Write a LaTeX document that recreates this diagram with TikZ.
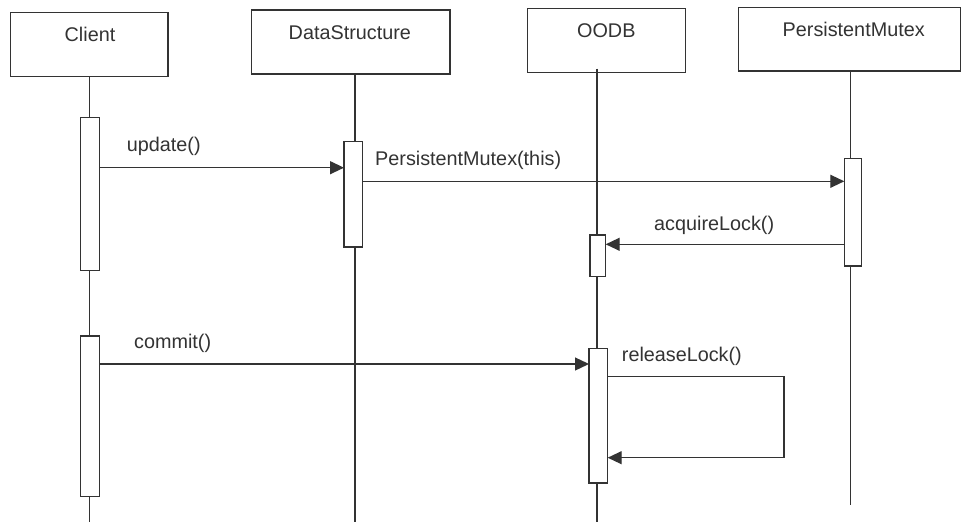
\documentclass[tikz,border=0pt]{standalone}
\usepackage{fontspec}
\setmainfont{Liberation Sans}
\usetikzlibrary{arrows.meta}
\definecolor{ink}{HTML}{333333}
\begin{document}
\begin{tikzpicture}[x=1pt,y=-1pt,
  every node/.style={text=ink},
  obj/.style={draw=ink, line width=1.3pt, fill=white, inner sep=0pt, outer sep=0pt, anchor=north west},
  act/.style={draw=ink, line width=1.3pt, fill=white, inner sep=0pt, outer sep=0pt, anchor=north west},
  life/.style={draw=ink, line width=1.3pt},
  msg/.style={draw=ink, line width=1.3pt, -{Triangle[length=14pt,width=13pt]}},
  lbl/.style={inner sep=0pt, font=\fontsize{19.8}{22}\selectfont},
  ttl/.style={inner sep=0pt, anchor=base, font=\fontsize{19.8}{22}\selectfont}]
\useasboundingbox (0,0) rectangle (961,522);
\fill[white] (0,0) rectangle (961,522);
% object boxes
\node[obj, minimum width=157.3pt, minimum height=64pt] (client) at (10.7,12.7) {};
\node[obj, minimum width=198.3pt, minimum height=64pt] (ds) at (251.7,10) {};
\node[obj, minimum width=158.4pt, minimum height=64.4pt] (oodb) at (527.3,8.3) {};
\node[obj, minimum width=222pt, minimum height=63.7pt] (pm) at (738.3,7.3) {};
\node[ttl] (tclient) at (90,41.7) {Client};
\node[ttl] (tds) at (349.8,39.3) {DataStructure};
\node[ttl] (toodb) at (606.3,37.7) {OODB};
\node[ttl] (tpm) at (853.7,36.7) {PersistentMutex};
% lifelines
\coordinate (lc) at (89.3,522);
\coordinate (ld) at (355,522);
\coordinate (lo) at (597,522);
\coordinate (lp) at (850.5,505);
\draw[life] (client.south -| lc) -- (lc);
\draw[life] (ds.south -| ld) -- (ld);
\draw[life] ([yshift=4pt]oodb.south -| lo) -- (lo);
\draw[life] (pm.south -| lp) -- (lp);
% activations
\node[act, minimum width=18.6pt, minimum height=153pt] (ca1) at (80.7,117.7) {};
\node[act, minimum width=18.7pt, minimum height=105.3pt] (da1) at (344,141.7) {};
\node[act, minimum width=17.4pt, minimum height=107.7pt] (ma1) at (844.3,158.3) {};
\node[act, minimum width=15.7pt, minimum height=41.7pt] (oa1) at (590,235) {};
\node[act, minimum width=18.6pt, minimum height=160.7pt] (ca2) at (80.7,336) {};
\node[act, minimum width=18.7pt, minimum height=134.7pt] (oa2) at (589,348.3) {};
% messages
\draw[msg] (ca1.east |- 0,167.7) -- (da1.west |- 0,167.7);
\node[lbl, anchor=base west] (lupd) at (126.7,151) {update()};
\draw[msg] (da1.east |- 0,181.3) -- (ma1.west |- 0,181.3);
\node[lbl, anchor=base west] (lpm) at (375,165.7) {PersistentMutex(this)};
\draw[msg] (ma1.west |- 0,244.3) -- (oa1.east |- 0,244.3);
\node[lbl, anchor=base west] (lacq) at (654,230) {acquireLock()};
\draw[msg] (ca2.east |- 0,364) -- (oa2.west |- 0,364);
\node[lbl, anchor=base west] (lcom) at (134,348.3) {commit()};
\coordinate (loopA) at (784,376.7);
\coordinate (loopB) at (784,457.7);
\draw[msg] (oa2.east |- loopA) -- (loopA) -- (loopB) -- (oa2.east |- loopB);
\node[lbl, anchor=base west] (lrel) at (621.7,361) {releaseLock()};
\end{tikzpicture}
\end{document}
